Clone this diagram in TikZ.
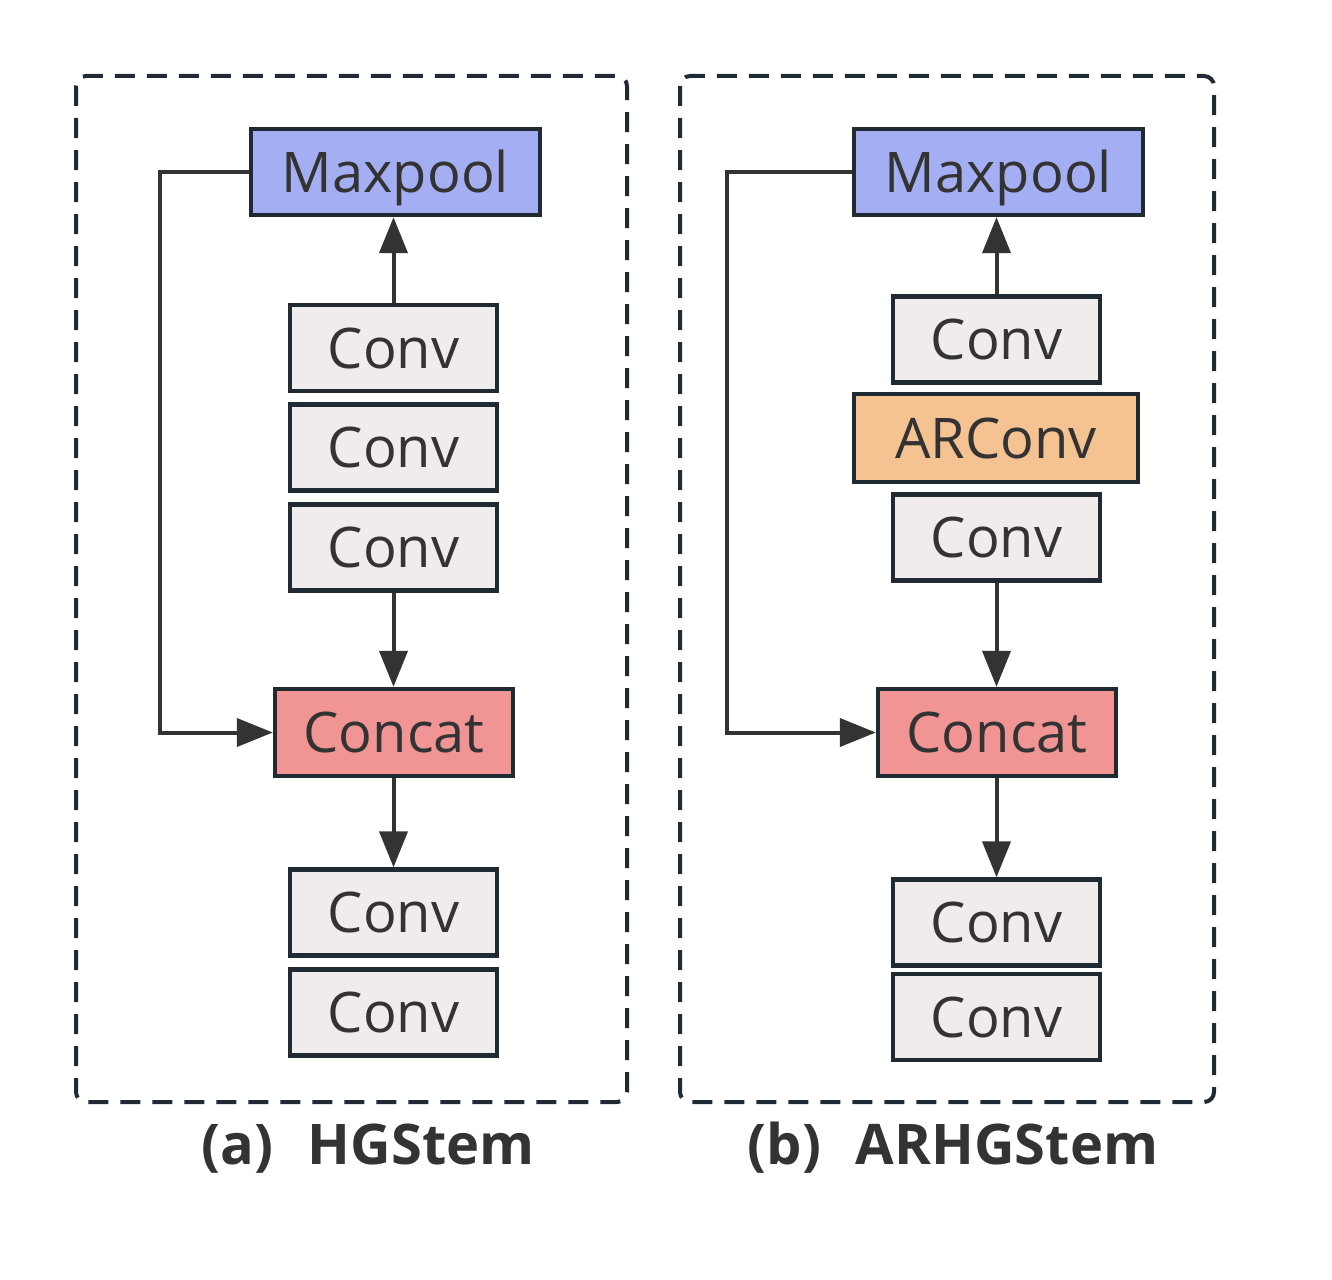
\documentclass[tikz,border=0pt]{standalone}
\usepackage{fontspec}
\setmainfont{Open Sans}
\usetikzlibrary{arrows.meta}
\definecolor{edgec}{HTML}{1F2A33}
\definecolor{txtc}{HTML}{333333}
\definecolor{convc}{HTML}{F0ECEB}
\definecolor{poolc}{HTML}{A4AEF2}
\definecolor{catc}{HTML}{F09594}
\definecolor{arc}{HTML}{F5C291}
\tikzset{
  blk/.style={draw=edgec, line width=2.2pt, inner sep=0pt, text=txtc, text height=20pt, text depth=0pt, font=\fontsize{28}{32}\selectfont},
  convbox/.style={blk, fill=convc, minimum width=103.5pt, minimum height=43pt},
  poolbox/.style={blk, fill=poolc, minimum width=144.5pt, minimum height=43pt},
  catbox/.style={blk, fill=catc, minimum width=119pt, minimum height=43.5pt},
  arbox/.style={blk, fill=arc, minimum width=142pt, minimum height=44pt},
  conn/.style={draw=txtc, line width=2pt, -{Triangle[length=18pt,width=14pt]}},
  frame/.style={draw=edgec, line width=2pt, dash pattern=on 10pt off 6pt, rounded corners=5pt},
  caption/.style={text=txtc, font=\fontsize{28}{32}\selectfont\bfseries, inner sep=0pt, text height=20pt, text depth=0pt}
}
\begin{document}
\begin{tikzpicture}[x=0.5pt,y=-0.5pt]
\useasboundingbox (0,0) rectangle (1332,1279);
% frames
\draw[frame] (76,76) rectangle (627,1102);
\draw[frame] (680,76) rectangle (1214,1102);
% left panel
\node[poolbox] (mpa) at (395.5,172) {Maxpool};
\node[convbox] (a1) at (393.5,348) {Conv};
\node[convbox] (a2) at (393.5,447.5) {Conv};
\node[convbox] (a3) at (393.5,547.5) {Conv};
\node[catbox] (cca) at (394,732.5) {Concat};
\node[convbox] (a4) at (393.5,912.5) {Conv};
\node[convbox] (a5) at (393.5,1012.5) {Conv};
\draw[conn] (a1.north) -- (a1.north |- mpa.south);
\draw[conn] (a3.south) -- (a3.south |- cca.north);
\draw[conn] (cca.south -| a4.north) -- (a4.north);
\coordinate (ka) at (160,172);
\draw[conn] (mpa.west) -- (ka) |- (cca.west);
% right panel
\node[poolbox] (mpb) at (998.5,172) {Maxpool};
\node[convbox] (b1) at (996.5,339.5) {Conv};
\node[arbox] (b2) at (996,438) {ARConv};
\node[convbox] (b3) at (996.5,537.5) {Conv};
\node[catbox] (ccb) at (997,732.5) {Concat};
\node[convbox] (b4) at (996.5,922.5) {Conv};
\node[convbox] (b5) at (996.5,1017) {Conv};
\draw[conn] (b1.north) -- (b1.north |- mpb.south);
\draw[conn] (b3.south) -- (b3.south |- ccb.north);
\draw[conn] (ccb.south -| b4.north) -- (b4.north);
\coordinate (kb) at (727,172);
\draw[conn] (mpb.west) -- (kb) |- (ccb.west);
% captions
\node[caption] (capa) at (368,1144) {(a)\hspace{0.62em}HGStem};
\node[caption] (capb) at (953,1144) {(b)\hspace{0.62em}ARHGStem};
\end{tikzpicture}
\end{document}
